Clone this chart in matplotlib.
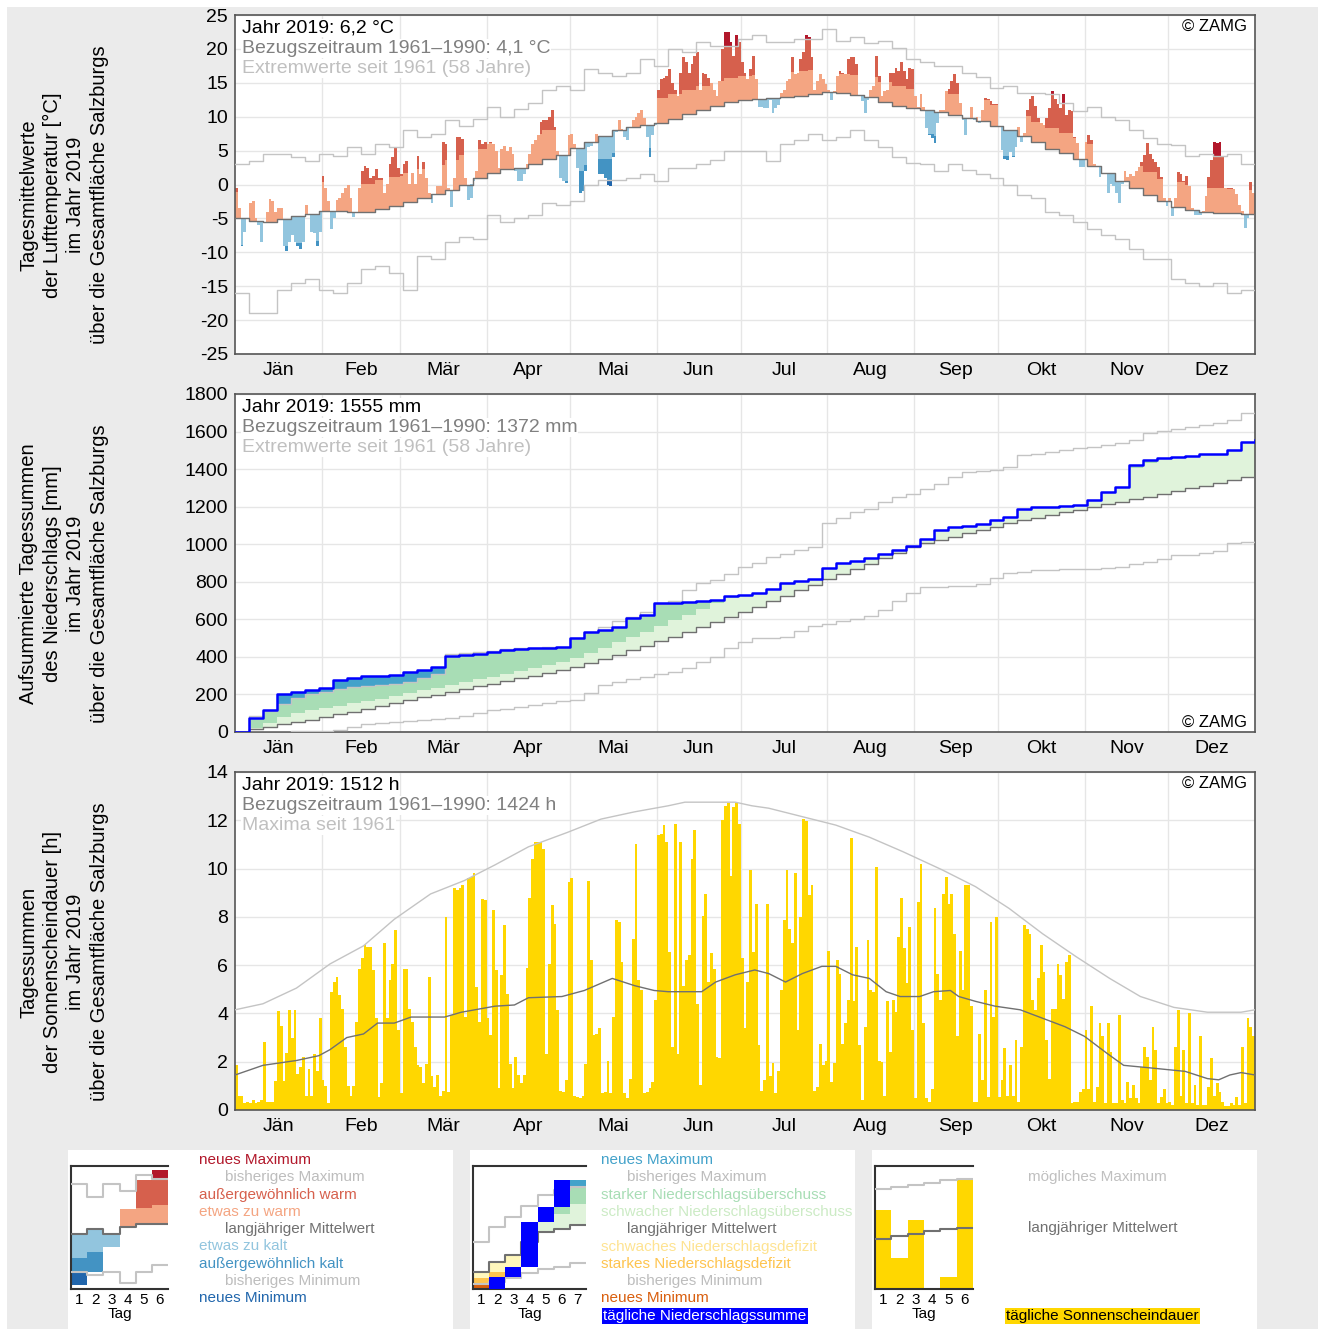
import numpy as np
import matplotlib
matplotlib.use("Agg")
import matplotlib.pyplot as plt
from matplotlib.patches import Rectangle

plt.rcParams["font.family"] = ["Liberation Sans", "DejaVu Sans"]
plt.rcParams["axes.unicode_minus"] = False

W, H = 1318, 1329
BG = "#ebebeb"
GRID = "#e6e6e6"
FRAME = "#555555"
MEAN_C = "#707070"
EXT_C = "#c4c4c4"

months = ["Jän", "Feb", "Mär", "Apr", "Mai", "Jun", "Jul", "Aug", "Sep", "Okt", "Nov", "Dez"]
month_len = [31, 28, 31, 30, 31, 30, 31, 31, 30, 31, 30, 31]

# --- Temperatur: Tagesmittel 2019 (°C), ein Wert pro Tag
temp_2019 = [
    -0.5, -3.5, -9, -7, -5, -2.75, -2.5, -5, -6, -8.5,
    -5.5, -4, -2.2, -2.5, -4, -3.5, -3.5, -9, -9.75, -8.5,
    -7.5, -8.5, -9, -9.5, -8.5, -3, -4.5, -7, -7.2, -9,
    -7, 1.3, -0.5, -2.5, -6.5, -5, -2.25, -2, -1.25, -0.5,
    0, -2, -4.75, -4.2, -0.5, 2, 2.75, 2.5, 1, 1.25,
    2.25, 1, 1, -1.25, 0, 3, 4, 5.5, 2.5, 1.5,
    3, 3.5, 0, 1.75, 0, 4.25, 1.5, 3.25, 1, -1.25,
    -2.75, -1.5, -0.25, -0.25, 6.25, 6, -0.5, -3.25, 1, 7,
    7, 6.75, 1, -2.25, -2, 0.5, 2, 6.5, 6, 6.25,
    6, 6.25, 6, 5, 2.5, 5.25, 5.75, 5, 5.5, 4.5,
    2, 0.5, 0.5, 1.5, 3, 4.5, 6, 6.5, 7.25, 9.25,
    9.5, 9.5, 10, 11, 8.5, 5, 1, 0.5, 0.25, 7.25,
    7.5, 6, 2.5, -1.25, -1, 2, 5.5, 5.75, 6.25, 7.5,
    1.5, 1.5, 1, 0, -0.25, 4, 7.75, 9.5, 8.25, 7,
    6.5, 8.5, 9.5, 10, 10.5, 11, 9.75, 7, 4, 7.25,
    8.75, 14, 15.5, 15.75, 16, 17, 15, 14, 13, 16.5,
    18.75, 18, 16.5, 17.75, 19, 19.6, 14, 16.5, 16.25, 15.75,
    15, 14, 13, 15.25, 20, 22.5, 22.5, 21, 19, 22,
    21, 18, 16.5, 15.5, 17, 19, 15.5, 11.5, 11.5, 11.25,
    11.25, 12.5, 10.5, 11.25, 11.75, 13.5, 14, 15.25, 15.5, 18.75,
    16.25, 16.5, 18.5, 19.5, 22, 21.75, 18.75, 14, 15.25, 16.25,
    15.5, 14.75, 14, 12.5, 13.75, 16, 16.75, 16.5, 16.25, 18.5,
    18.75, 18.75, 17.75, 13.25, 12.25, 10.5, 12.5, 14, 14.5, 19,
    16, 13, 13.75, 14, 16.5, 16.5, 17.25, 16.75, 18, 16.75,
    15.5, 17.25, 17, 13, 11.5, 13.3, 11.5, 8.3, 7.3, 6.8,
    6.05, 9, 11, 11, 13.8, 14.05, 15.3, 16.3, 15, 12,
    9.5, 7.3, 9.8, 11.5, 9.55, 10, 9, 11, 12.8, 12.55,
    12.3, 11.8, 11.8, 8.55, 5.05, 3.8, 3.55, 4.8, 4.05, 5.55,
    8.55, 6.3, 7.55, 11.05, 12.55, 13.05, 11.55, 9.8, 9.05, 8.8,
    9.8, 11.3, 13.8, 12.55, 11.8, 11.3, 13.3, 10.3, 11.05, 10.8,
    7.05, 6.05, 2.55, 2.55, 6.3, 7.3, 6.55, 3.05, 2.55, 1.05,
    1.55, 1.55, -1.2, 0.05, -0.2, -1.2, -2.7, 0.05, 2.05, 1.05,
    1.55, 1.3, 2.05, 2.55, 3.3, 4.3, 6.05, 4.55, 3.8, 3.3,
    2.55, 1.05, -1.95, -3.2, -1.95, -4.7, -2, 1.8, 1.55, 0.55,
    1.3, -0.2, -3.45, -4.45, -4.55, -4.45, -3.95, -1.7, 1.05, 3.55,
    6.3, 6.05, 6.3, 4.05, -0.45, -0.45, -0.45, -0.7, -1.45, -2.95,
    -3.95, -6.45, -4.95, 0.3, -1.2,
]

# 5-Tages-Werte (73 Pentaden): Mittel 1961-1990, bisheriges Max / Min
temp_mean_5d = [
    -4.9, -5.4, -5.5, -5.1, -4.7, -4.3, -3.9, -3.85, -4.1, -4.1,
    -3.6, -3.1, -2.6, -2.05, -1.45, -0.75, 0.0, 0.9, 1.75, 2.25,
    2.5, 3.0, 3.7, 4.3, 5.4, 6.3, 7.2, 8.1, 8.55, 8.75,
    9.1, 9.7, 10.35, 11.0, 11.6, 12.1, 12.4, 12.6, 12.8, 12.95,
    13.1, 13.35, 13.7, 13.45, 13.2, 12.9, 12.2, 11.6, 11.25, 10.95,
    10.65, 10.25, 9.8, 9.3, 8.6, 8.0, 7.1, 6.2, 5.3, 4.6,
    3.8, 2.7, 1.7, 0.55, -0.5, -1.5, -2.45, -3.25, -3.7, -4.05,
    -4.15, -4.2, -4.4,
]
temp_max_5d = [
    3, 3.5, 4.5, 4.5, 4, 3.5, 4.5, 4.2, 5.5, 4.5,
    6, 5.5, 8, 7, 7.5, 9.5, 8.7, 9.7, 11.5, 10,
    11.2, 12, 14, 14.5, 14, 17, 16.5, 16, 16.5, 18.5,
    17.5, 20, 19.5, 21, 20.5, 20.5, 21.5, 22, 21, 21,
    21.5, 21.5, 23, 21.2, 21.7, 20.8, 21.2, 20.2, 18.5, 18,
    17.5, 17.5, 16.5, 15.8, 14.2, 14.5, 13.5, 13.5, 13.3, 12,
    10.8, 11.5, 10, 9.5, 8, 6.8, 6, 5.8, 4.2, 4.5,
    4.2, 4.5, 3,
]
temp_min_5d = [
    -16, -19, -19, -15.5, -14.5, -14, -15.5, -16, -14.5, -12.5,
    -12, -13, -15.5, -10.5, -11, -8.5, -7.7, -8, -4.5, -5.5,
    -5, -4.5, -2.7, -3, -2.5, 0, 0.6, 0.7, 1, 1.5,
    0.5, 2.5, 2.5, 3, 3.6, 5, 5, 5, 3.5, 6,
    6.5, 7.5, 6.5, 7, 8, 6.5, 5.5, 4, 3.2, 3,
    2, 3, 2.2, 1.5, 1, 0, -1.5, -2, -4, -4.5,
    -5.5, -6.5, -7.5, -8, -9.5, -11, -11, -14, -14.5, -15,
    -14.5, -16, -15.5,
]
# Abstand der Schwellen "außergewöhnlich warm/kalt" vom Mittel, je Monat
warm_dev_month = [3.8, 4.2, 4.3, 4.4, 4.2, 3.6, 3.6, 2.9, 3.1, 3.0, 3.3, 3.6]
cold_dev_month = [4.0, 4.0, 4.0, 3.8, 3.4, 3.2, 3.2, 3.3, 3.5, 3.8, 4.0, 4.0]

# --- Niederschlag: Summe (mm) am Ende jeder Pentade
rain_2019_5d = [
    75, 115, 205, 215, 222, 235, 277, 290, 296, 300,
    305, 320, 332, 345, 405, 412, 417, 425, 435, 443,
    446, 449, 452, 500, 530, 545, 560, 607, 625, 687,
    687, 690, 695, 702, 726, 732, 740, 761, 793, 805,
    815, 873, 900, 908, 925, 950, 970, 990, 1030, 1075,
    1094, 1097, 1110, 1130, 1145, 1185, 1198, 1200, 1205, 1209,
    1237, 1280, 1305, 1420, 1450, 1457, 1462, 1468, 1478, 1482,
    1500, 1545, 1555,
]
rain_mean_5d = [
    14, 27, 40, 53, 66, 79, 94, 108, 123, 138,
    153, 170, 184, 199, 213, 228, 243, 258, 272, 286,
    300, 315, 330, 345, 367, 390, 412, 435, 458, 482,
    508, 535, 561, 588, 615, 640, 668, 697, 726, 755,
    784, 814, 843, 870, 897, 924, 951, 984, 1005, 1022,
    1040, 1058, 1076, 1094, 1112, 1127, 1141, 1155, 1170, 1184,
    1199, 1213, 1227, 1240, 1254, 1267, 1281, 1297, 1312, 1328,
    1343, 1359, 1374,
]
rain_max_5d = [
    85, 110, 150, 180, 200, 215, 230, 238, 244, 250,
    256, 265, 285, 310, 415, 420, 425, 432, 440, 446,
    450, 452, 455, 500, 535, 560, 590, 612, 640, 680,
    700, 756, 795, 812, 840, 880, 900, 930, 950, 968,
    985, 1113, 1140, 1170, 1190, 1225, 1250, 1270, 1296, 1320,
    1360, 1384, 1390, 1395, 1410, 1475, 1480, 1490, 1502, 1510,
    1520, 1530, 1540, 1555, 1590, 1605, 1612, 1625, 1635, 1645,
    1660, 1700, 1709,
]
rain_min_5d = [
    0, 1, 2, 3, 4, 6, 10, 25, 45, 50,
    55, 60, 65, 70, 75, 85, 100, 115, 125, 135,
    145, 155, 165, 172, 210, 250, 265, 280, 295, 310,
    318, 340, 375, 400, 450, 480, 500, 503, 506, 540,
    565, 575, 590, 600, 620, 650, 700, 740, 772, 772,
    775, 780, 790, 820, 846, 852, 862, 864, 866, 868,
    870, 873, 880, 895, 905, 920, 942, 945, 953, 965,
    1006, 1010, 1017,
]
# Grenze "starker Niederschlagsüberschuss"
rain_strong_5d = [
    20, 50, 80, 100, 115, 128, 140, 152, 165, 178,
    192, 210, 222, 236, 250, 265, 280, 295, 310, 325,
    340, 355, 372, 392, 420, 450, 478, 506, 535, 565,
    595, 625, 655, 685, 712, 740, 768, 797, 826, 855,
    884, 914, 944, 972, 1000, 1030, 1058, 1085, 1110, 1130,
    1150, 1170, 1190, 1210, 1230, 1248, 1265, 1282, 1300, 1315,
    1335, 1352, 1370, 1405, 1435, 1455, 1475, 1495, 1515, 1535,
    1555, 1575, 1600,
]

# --- Sonnenscheindauer 2019 (h), ein Wert pro Tag
sun_2019 = [
    1.86, 0.6, 0.6, 0.28, 0.35, 0.28, 0.4, 0.3, 0.35, 0.4,
    2.8, 0.35, 0.35, 0.35, 1.2, 4.1, 3.5, 1.2, 2.35, 4.15,
    3.0, 4.15, 1.5, 1.8, 2.2, 0.6, 1.7, 0.6, 2.3, 1.6,
    3.8, 1.25, 1.0, 0.28, 4.9, 5.3, 5.5, 4.75, 4.2, 2.6,
    1.0, 0.6, 1.0, 3.65, 5.85, 6.3, 6.85, 6.75, 6.75, 5.8,
    3.8, 0.55, 1.1, 6.9, 3.8, 5.4, 6.05, 7.45, 3.3, 0.7,
    5.85, 5.85, 4.2, 3.65, 2.6, 1.85, 1.8, 1.1, 1.9, 5.5,
    1.4, 0.95, 1.45, 0.6, 0.8, 8.0, 0.75, 3.95, 9.2, 9.1,
    9.2, 9.3, 3.85, 9.6, 9.65, 9.8, 5.1, 3.65, 8.75, 8.7,
    3.8, 3.1, 8.3, 5.8, 0.9, 5.6, 7.65, 4.8, 1.9, 0.9,
    2.2, 1.45, 1.1, 1.45, 5.9, 8.8, 10.4, 11.1, 11.1, 11.1,
    10.8, 2.3, 6.05, 8.5, 7.7, 4.15, 0.8, 0.75, 1.25, 9.45,
    9.6, 0.6, 0.55, 0.5, 0.6, 1.9, 9.5, 6.2, 3.1, 3.15,
    3.4, 0.7, 0.75, 2.05, 0.7, 3.85, 7.85, 7.8, 6.15, 0.7,
    0.5, 1.3, 7.1, 11.0, 5.4, 4.95, 0.7, 0.75, 0.9, 1.15,
    4.55, 11.4, 11.45, 11.8, 11.1, 6.55, 2.6, 11.85, 2.3, 11.1,
    5.15, 6.2, 6.4, 10.4, 11.6, 4.4, 1.05, 8.05, 8.95, 5.3,
    6.5, 5.85, 2.2, 2.15, 12.0, 12.6, 12.7, 9.7, 12.55, 12.7,
    11.85, 6.3, 3.4, 5.3, 9.95, 6.55, 8.55, 2.7, 0.8, 1.25,
    8.55, 1.4, 1.95, 0.7, 1.6, 4.95, 7.85, 9.95, 7.5, 6.9,
    9.8, 3.3, 8.0, 12.05, 11.95, 8.9, 9.3, 0.8, 0.95, 2.75,
    1.85, 2.05, 6.6, 1.15, 1.95, 6.2, 5.65, 2.75, 3.6, 4.55,
    11.25, 4.5, 6.75, 2.7, 0.4, 3.45, 7.05, 4.95, 4.9, 10.05,
    2.05, 2.0, 0.6, 4.5, 2.4, 4.55, 4.05, 7.15, 8.8, 6.7,
    5.25, 7.6, 3.3, 0.5, 8.6, 10.2, 3.6, 0.5, 0.35, 0.85,
    8.35, 5.65, 4.55, 8.95, 9.65, 8.55, 8.95, 7.3, 3.05, 6.6,
    4.95, 9.3, 9.3, 4.3, 0.35, 0.35, 3.15, 1.25, 4.95, 0.55,
    7.8, 3.85, 8.0, 0.55, 1.25, 2.55, 0.6, 1.85, 0.6, 2.9,
    0.35, 2.6, 7.65, 7.5, 7.3, 4.55, 4.15, 5.45, 6.85, 5.7,
    2.9, 1.3, 4.2, 4.2, 6.05, 5.6, 4.6, 6.15, 6.4, 0.3,
    0.35, 0.35, 0.75, 0.85, 3.3, 0.85, 4.3, 0.35, 0.95, 3.6,
    3.05, 0.3, 3.6, 2.4, 0.3, 0.3, 3.95, 0.4, 0.3, 1.15,
    0.5, 1.05, 0.5, 0.3, 1.8, 2.6, 2.2, 1.25, 3.45, 2.5,
    0.3, 0.55, 0.85, 0.3, 0.35, 0.2, 2.6, 4.15, 0.6, 2.5,
    0.3, 4.0, 0.3, 1.05, 0.2, 3.05, 0.2, 0.2, 0.95, 2.15,
    0.6, 1.1, 0.75, 0.35, 0.15, 0.15, 0.3, 0.2, 0.55, 0.2,
    2.6, 0.3, 3.8, 3.45, 3.05,
]
sun_mean_day = [0, 10, 22, 30, 34, 40, 46, 51, 57, 63, 75, 81, 93, 100, 105, 117, 125, 135,
                143, 150, 155, 167, 172, 179, 186, 191, 197, 203, 210, 215, 221, 227, 233,
                238, 245, 250, 256, 259, 265, 272, 281, 289, 297, 304, 312, 318, 327, 340,
                348, 352, 356, 360, 365]
sun_mean_val = [1.45, 1.85, 2.05, 2.25, 2.5, 3.0, 3.15, 3.6, 3.6, 3.85, 3.85, 4.05, 4.3, 4.35,
                4.65, 4.7, 4.95, 5.45, 5.15, 4.95, 4.9, 4.9, 5.3, 5.6, 5.8, 5.65, 5.3, 5.65,
                5.95, 5.95, 5.6, 5.45, 4.9, 4.7, 4.7, 4.9, 4.95, 4.7, 4.5, 4.3, 4.15, 3.8,
                3.45, 3.05, 2.35, 1.85, 1.75, 1.6, 1.3, 1.25, 1.45, 1.55, 1.45]
sun_max_day = [0, 10, 22, 34, 46, 57, 70, 82, 93, 105, 119, 131, 143, 155, 161, 179, 185, 191,
               203, 215, 227, 239, 253, 265, 277, 289, 301, 313, 324, 336, 342, 348, 360, 365]
sun_max_val = [4.15, 4.4, 5.05, 6.05, 6.8, 7.9, 8.95, 9.5, 10.15, 10.9, 11.5, 12.05, 12.35,
               12.6, 12.75, 12.75, 12.6, 12.5, 12.15, 11.8, 11.3, 10.7, 9.95, 9.25, 8.35,
               7.3, 6.35, 5.45, 4.7, 4.25, 4.15, 4.05, 4.05, 4.15]

# --- Beispielwerte der kleinen Legenden-Grafiken (Skala 0..10)
lt_val = [0.32, 1.4, 3.4, 6.5, 8.9, 9.7]
lt_mean = [4.5, 4.9, 4.5, 5.05, 5.3, 5.3]
lt_max = [8.57, 7.5, 8.57, 8.0, 9.3, 8.97]
lt_min = [1.4, 1.14, 1.4, 0.46, 1.4, 1.95]
lt_warm = [7.0, 7.0, 7.0, 6.5, 6.6, 6.8]
lt_cold = [2.5, 3.0, 2.5, 3.0, 3.0, 3.0]

lr_val = [0, 1.0, 1.8, 5.46, 6.7, 8.84, 8.84]
lr_mean = [1.4, 2.2, 2.8, 3.84, 4.6, 4.9, 5.2]
lr_max = [3.84, 5.05, 5.84, 6.78, 7.62, 8.03, 8.3]
lr_min = [0.4, 0.54, 0.86, 1.27, 1.62, 1.81, 2.08]
lr_strong = [3.0, 3.6, 4.2, 4.8, 5.6, 6.13, 6.95]
lr_weak = [0.92, 1.4, 1.7, 2.6, 3.3, 3.6, 3.9]

ls_val = [6.4, 2.5, 5.6, 0, 1.0, 8.84]
ls_mean = [4.05, 4.3, 4.5, 4.7, 4.9, 4.95]
ls_max = [8.16, 8.3, 8.43, 8.65, 8.84, 8.92]


def fx(x):
    return x / W


def fy(y):
    return 1 - y / H


def steps(v):
    v = np.asarray(v, float)
    return np.r_[v, v[-1]]


def temp_bars(ax, x, v, m, tw, tc, mx, mn, w=1.0):
    layers = [
        (v > m, m, v, "#f4a582"),
        (v > tw, tw, v, "#d6604d"),
        (v > mx, mx, v, "#b2182b"),
        (v < m, v, m, "#92c5de"),
        (v < tc, v, tc, "#4393c3"),
        (v < mn, v, mn, "#2166ac"),
    ]
    for sel, lo, hi, c in layers:
        ax.bar(x[sel], (hi - lo)[sel], bottom=lo[sel], width=w, color=c,
               linewidth=0, zorder=2)


def setup_panel(ax, ylim, yticks):
    ax.set_xlim(0, 365)
    ax.set_ylim(*ylim)
    ax.set_yticks(yticks)
    ax.set_xticks(month_mid)
    ax.set_xticklabels(months)
    ax.set_xticks(month_start[1:], minor=True)
    ax.tick_params(which="both", length=0, labelsize=14)
    ax.tick_params(axis="x", pad=6)
    ax.tick_params(axis="y", pad=5)
    ax.grid(True, which="minor", axis="x", color=GRID, lw=1)
    ax.grid(True, which="major", axis="y", color=GRID, lw=1)
    ax.set_axisbelow(True)
    for s in ax.spines.values():
        s.set_color(FRAME)
        s.set_linewidth(1.2)


def header(lines, y0):
    colors = ["black", "#808080", "#c0c0c0"]
    for i, (t, c) in enumerate(zip(lines, colors)):
        fig.text(fx(242), fy(y0 + 20.3 * i), t, color=c, fontsize=14, ha="left",
                 va="center", zorder=5,
                 bbox=dict(facecolor="white", edgecolor="none", pad=0.5))


def mini_axes(left, right, n):
    ax = fig.add_axes([fx(left), fy(1289), (right - left) / W, 123 / H])
    ax.set_xlim(0.5, n + 0.5)
    ax.set_ylim(0, 10)
    ax.set_xticks(range(1, n + 1))
    ax.set_yticks([])
    ax.tick_params(length=0, labelsize=11, pad=3)
    ax.set_xlabel("Tag", fontsize=11, labelpad=0)
    ax.spines["right"].set_visible(False)
    for s in ["left", "top", "bottom"]:
        ax.spines[s].set_color("#333333")
        ax.spines[s].set_linewidth(1.5)
    return ax


month_start = np.cumsum([0] + month_len[:-1])
month_mid = month_start + np.array(month_len) / 2

fig = plt.figure(figsize=(W / 100, H / 100), dpi=100, facecolor=BG)
fig.add_artist(Rectangle((0, 0), 7 / W, 1, transform=fig.transFigure,
                         facecolor="white", edgecolor="none", zorder=-1))
fig.add_artist(Rectangle((0, fy(7)), 1, 7 / H, transform=fig.transFigure,
                         facecolor="white", edgecolor="none", zorder=-1))

days = np.arange(365) + 0.5
edges5 = np.arange(0, 366, 5)

# ---------------- Temperatur
ax1 = fig.add_axes([fx(235), fy(354), 1020 / W, 339 / H])
setup_panel(ax1, (-25, 25), range(-25, 26, 5))
t = np.array(temp_2019, float)
t_mean = np.repeat(temp_mean_5d, 5)
t_max = np.repeat(temp_max_5d, 5)
t_min = np.repeat(temp_min_5d, 5)
t_warm = t_mean + np.repeat(warm_dev_month, month_len)
t_cold = t_mean - np.repeat(cold_dev_month, month_len)
temp_bars(ax1, days, t, t_mean, t_warm, t_cold, t_max, t_min)
ax1.step(edges5, steps(temp_max_5d), where="post", color=EXT_C, lw=1, zorder=3)
ax1.step(edges5, steps(temp_min_5d), where="post", color=EXT_C, lw=1, zorder=3)
ax1.step(edges5, steps(temp_mean_5d), where="post", color=MEAN_C, lw=1, zorder=3)
header(["Jahr 2019: 6,2 °C", "Bezugszeitraum 1961–1990: 4,1 °C",
        "Extremwerte seit 1961 (58 Jahre)"], 28)
fig.text(fx(1247), fy(26), "© ZAMG", ha="right", va="center", fontsize=12)

# ---------------- Niederschlag
ax2 = fig.add_axes([fx(235), fy(732), 1020 / W, 338 / H])
setup_panel(ax2, (0, 1800), range(0, 1801, 200))
P = np.r_[0, rain_2019_5d].astype(float)
A = np.r_[0, rain_mean_5d].astype(float)
X = np.r_[0, rain_max_5d].astype(float)
N = np.r_[0, rain_min_5d].astype(float)
S = np.r_[0, rain_strong_5d].astype(float)
ax2.fill_between(edges5, A, np.maximum(P, A), step="post", color="#e0f3db", lw=0, zorder=2)
ax2.fill_between(edges5, S, np.maximum(P, S), step="post", color="#a8ddb5", lw=0, zorder=2)
ax2.fill_between(edges5, X, np.maximum(P, X), step="post", color="#43a2ca", lw=0, zorder=2)
ax2.fill_between(edges5, np.minimum(P, A), A, step="post", color="#fff7bc", lw=0, zorder=2)
ax2.step(edges5, X, where="post", color=EXT_C, lw=1, zorder=3)
ax2.step(edges5, N, where="post", color=EXT_C, lw=1, zorder=3)
ax2.step(edges5, A, where="post", color=MEAN_C, lw=1, zorder=3)
ax2.step(edges5, P, where="post", color="#0000ff", lw=1.8, zorder=4)
header(["Jahr 2019: 1555 mm", "Bezugszeitraum 1961–1990: 1372 mm",
        "Extremwerte seit 1961 (58 Jahre)"], 407)
fig.text(fx(1247), fy(722), "© ZAMG", ha="right", va="center", fontsize=12)

# ---------------- Sonnenschein
ax3 = fig.add_axes([fx(235), fy(1110), 1020 / W, 338 / H])
setup_panel(ax3, (0, 14), range(0, 15, 2))
ax3.bar(days, sun_2019, width=1.0, color="#ffd700", linewidth=0, zorder=2)
ax3.plot(sun_max_day, sun_max_val, color=EXT_C, lw=1, zorder=3)
ax3.plot(sun_mean_day, sun_mean_val, color=MEAN_C, lw=1, zorder=3)
header(["Jahr 2019: 1512 h", "Bezugszeitraum 1961–1990: 1424 h",
        "Maxima seit 1961"], 785)
fig.text(fx(1247), fy(783), "© ZAMG", ha="right", va="center", fontsize=12)

# y-Beschriftungen
ylabels = [
    ("Tagesmittelwerte\nder Lufttemperatur [°C]\nim Jahr 2019\nüber die Gesamtfläche Salzburgs", 195),
    ("Aufsummierte Tagessummen\ndes Niederschlags [mm]\nim Jahr 2019\nüber die Gesamtfläche Salzburgs", 574),
    ("Tagessummen\nder Sonnenscheindauer [h]\nim Jahr 2019\nüber die Gesamtfläche Salzburgs", 952),
]
for txt, yc in ylabels:
    fig.text(fx(64), fy(yc), txt, rotation=90, ha="center", va="center",
             multialignment="center", fontsize=14.5, linespacing=1.3)

# ---------------- Legenden
for bx in (68, 470, 872):
    fig.add_artist(Rectangle((fx(bx), 0), 385 / W, (H - 1150) / H,
                             transform=fig.transFigure, facecolor="white",
                             edgecolor="none", zorder=-1))

# Temperatur-Legende
la = mini_axes(71, 168, 6)
n = 6
xm = np.arange(1, n + 1)
ex = np.arange(n + 1) + 0.5
temp_bars(la, xm, np.array(lt_val), np.array(lt_mean), np.array(lt_warm),
          np.array(lt_cold), np.array(lt_max), np.array(lt_min))
la.step(ex, steps(lt_max), where="post", color=EXT_C, lw=1.5, zorder=3)
la.step(ex, steps(lt_min), where="post", color=EXT_C, lw=1.5, zorder=3)
la.step(ex, steps(lt_mean), where="post", color=MEAN_C, lw=1.5, zorder=3)

legend1 = [
    ("neues Maximum", "#b2182b", 0), ("bisheriges Maximum", "#bdbdbd", 1),
    ("außergewöhnlich warm", "#d6604d", 0), ("etwas zu warm", "#f4a582", 0),
    ("langjähriger Mittelwert", MEAN_C, 1), ("etwas zu kalt", "#92c5de", 0),
    ("außergewöhnlich kalt", "#4393c3", 0), ("bisheriges Minimum", "#bdbdbd", 1),
    ("neues Minimum", "#2166ac", 0),
]
for i, (txt, c, ind) in enumerate(legend1):
    fig.text(fx(199 + 26 * ind), fy(1160 + 17.3 * i), txt, color=c, fontsize=11,
             ha="left", va="center")

# Niederschlags-Legende
lb = mini_axes(473, 586, 7)
n = 7
xm = np.arange(1, n + 1)
ex = np.arange(n + 1) + 0.5
rv, rm, rx = steps(lr_val), steps(lr_mean), steps(lr_max)
rn, rs, rw = steps(lr_min), steps(lr_strong), steps(lr_weak)
lb.fill_between(ex, np.minimum(rv, rm), rm, step="post", color="#fff7bc", lw=0)
lb.fill_between(ex, np.minimum(rv, rw), rw, step="post", color="#fec44f", lw=0)
lb.fill_between(ex, np.minimum(rv, rn), rn, step="post", color="#d95f0e", lw=0)
lb.fill_between(ex, rm, np.maximum(rv, rm), step="post", color="#e0f3db", lw=0)
lb.fill_between(ex, rs, np.maximum(rv, rs), step="post", color="#a8ddb5", lw=0)
lb.fill_between(ex, rx, np.maximum(rv, rx), step="post", color="#43a2ca", lw=0)
lb.step(ex, rx, where="post", color=EXT_C, lw=1.5, zorder=3)
lb.step(ex, rn, where="post", color=EXT_C, lw=1.5, zorder=3)
lb.step(ex, rm, where="post", color=MEAN_C, lw=1.5, zorder=3)
prev = np.r_[0, lr_val[:-1]]
lb.bar(xm, np.array(lr_val) - prev, bottom=prev, width=1.0, color="#0000ff",
       linewidth=0, zorder=4)

legend2 = [
    ("neues Maximum", "#43a2ca", 0), ("bisheriges Maximum", "#bdbdbd", 1),
    ("starker Niederschlagsüberschuss", "#a8ddb5", 0),
    ("schwacher Niederschlagsüberschuss", "#ccebc5", 0),
    ("langjähriger Mittelwert", MEAN_C, 1),
    ("schwaches Niederschlagsdefizit", "#fee391", 0),
    ("starkes Niederschlagsdefizit", "#fec44f", 0),
    ("bisheriges Minimum", "#bdbdbd", 1), ("neues Minimum", "#d95f0e", 0),
]
for i, (txt, c, ind) in enumerate(legend2):
    fig.text(fx(601 + 26 * ind), fy(1160 + 17.3 * i), txt, color=c, fontsize=11,
             ha="left", va="center")
fig.text(fx(603), fy(1316), "tägliche Niederschlagssumme", color="white",
         fontsize=11, ha="left", va="center",
         bbox=dict(facecolor="#0000ff", edgecolor="none", pad=1))

# Sonnenschein-Legende
lc = mini_axes(875, 973, 6)
n = 6
xm = np.arange(1, n + 1)
ex = np.arange(n + 1) + 0.5
lc.bar(xm, ls_val, width=1.0, color="#ffd700", linewidth=0, zorder=2)
lc.step(ex, steps(ls_max), where="post", color=EXT_C, lw=1.5, zorder=3)
lc.step(ex, steps(ls_mean), where="post", color=MEAN_C, lw=1.5, zorder=3)
fig.text(fx(1028), fy(1177), "mögliches Maximum", color="#c0c0c0", fontsize=11,
         ha="left", va="center")
fig.text(fx(1028), fy(1228), "langjähriger Mittelwert", color=MEAN_C, fontsize=11,
         ha="left", va="center")
fig.text(fx(1006), fy(1316), "tägliche Sonnenscheindauer", color="black",
         fontsize=11, ha="left", va="center",
         bbox=dict(facecolor="#ffd700", edgecolor="none", pad=1))

fig.savefig("out.png", dpi=100, facecolor=BG)
